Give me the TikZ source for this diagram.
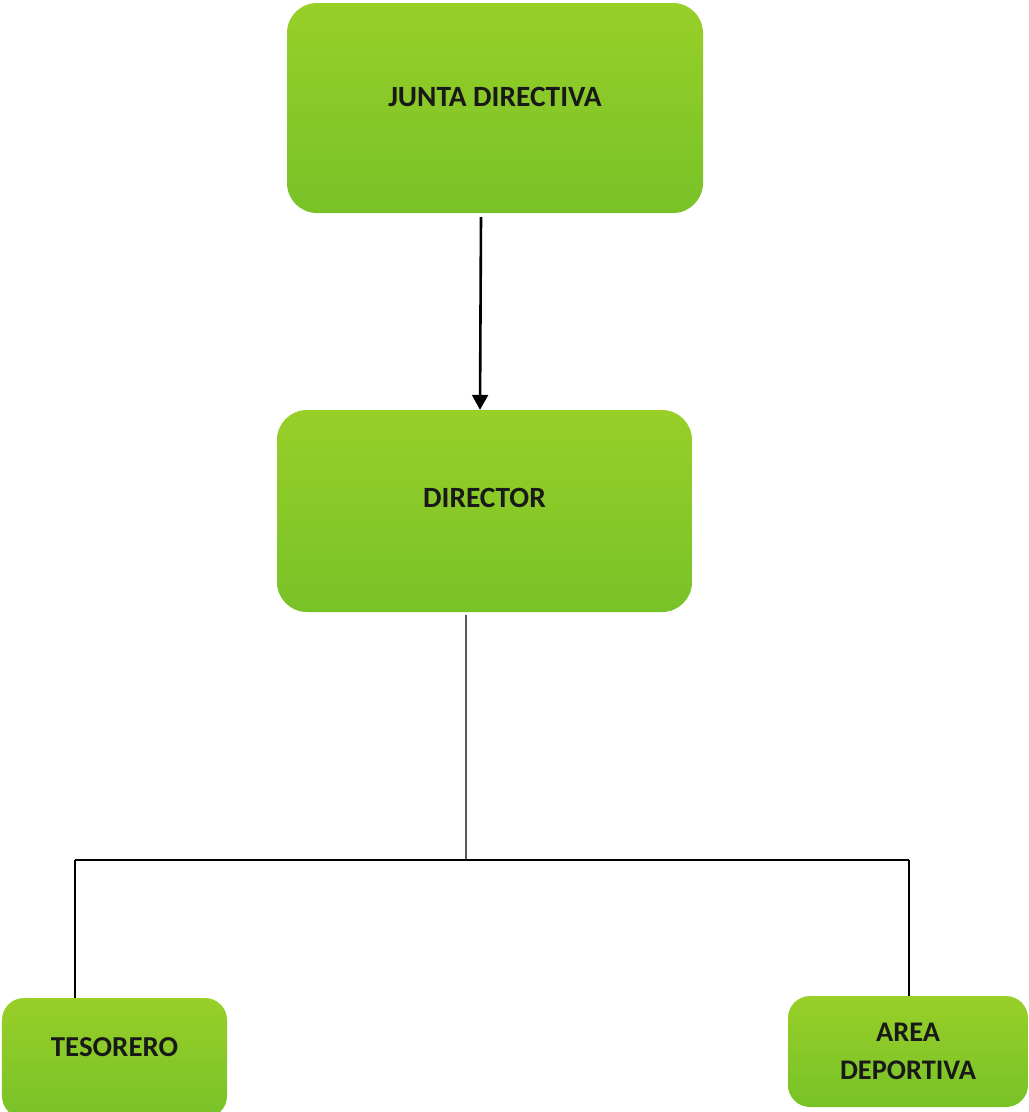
\documentclass[tikz,border=0pt]{standalone}
\usepackage{fontspec}
\setmainfont{Carlito}
\usetikzlibrary{arrows.meta,calc}
\definecolor{gtop}{RGB}{152,207,40}
\definecolor{gbot}{RGB}{120,194,40}
\tikzset{
  box/.style={rounded corners=30bp, top color=gtop, bottom color=gbot, draw=none, inner sep=0pt},
  boxtext/.style={font=\bfseries\fontsize{29.5}{37}\selectfont, align=center, text=black!90},
  conn/.style={line width=1.4bp, draw=black},
  arrowc/.style={line width=2.6bp, draw=black, -{Triangle[width=16bp,length=15bp]}},
}
\begin{document}
\begin{tikzpicture}[x=1bp,y=-1bp]
\useasboundingbox (0,0) rectangle (1029,1112);
\clip (0,0) rectangle (1029,1112);
\node[box, minimum width=416bp, minimum height=210bp] (junta) at (495,108) {};
\node[boxtext] (juntat) at (495,97) {JUNTA DIRECTIVA};
\node[box, minimum width=415bp, minimum height=202bp] (director) at (484.5,511) {};
\node[boxtext] (directort) at (484.5,498) {DIRECTOR};
\node[box, rounded corners=22bp, minimum width=225bp, minimum height=120bp] (tesorero) at (114.5,1058) {};
\node[boxtext, font=\bfseries\fontsize{29}{37}\selectfont] (tesorerot) at (114.5,1047) {TESORERO};
\node[box, rounded corners=22bp, minimum width=240bp, minimum height=111bp] (area) at (908,1051.5) {};
\node[boxtext, font=\bfseries\fontsize{28.5}{38}\selectfont] (areat) at (908,1051) {AREA\\DEPORTIVA};
\coordinate (hub) at (466,860);
\coordinate (hl) at (75,860);
\coordinate (hr) at (909,860);
\draw[arrowc] ([xshift=-14bp,yshift=-4bp]junta.south) -- ([xshift=-4.5bp]director.north);
\draw[conn] ([xshift=-18.5bp,yshift=-3bp]director.south) -- (hub);
\draw[conn] (hl) -- (hr);
\draw[conn] (hl) -- (hl |- tesorero.north);
\draw[conn] (hr) -- (hr |- area.north);
\end{tikzpicture}
\end{document}
